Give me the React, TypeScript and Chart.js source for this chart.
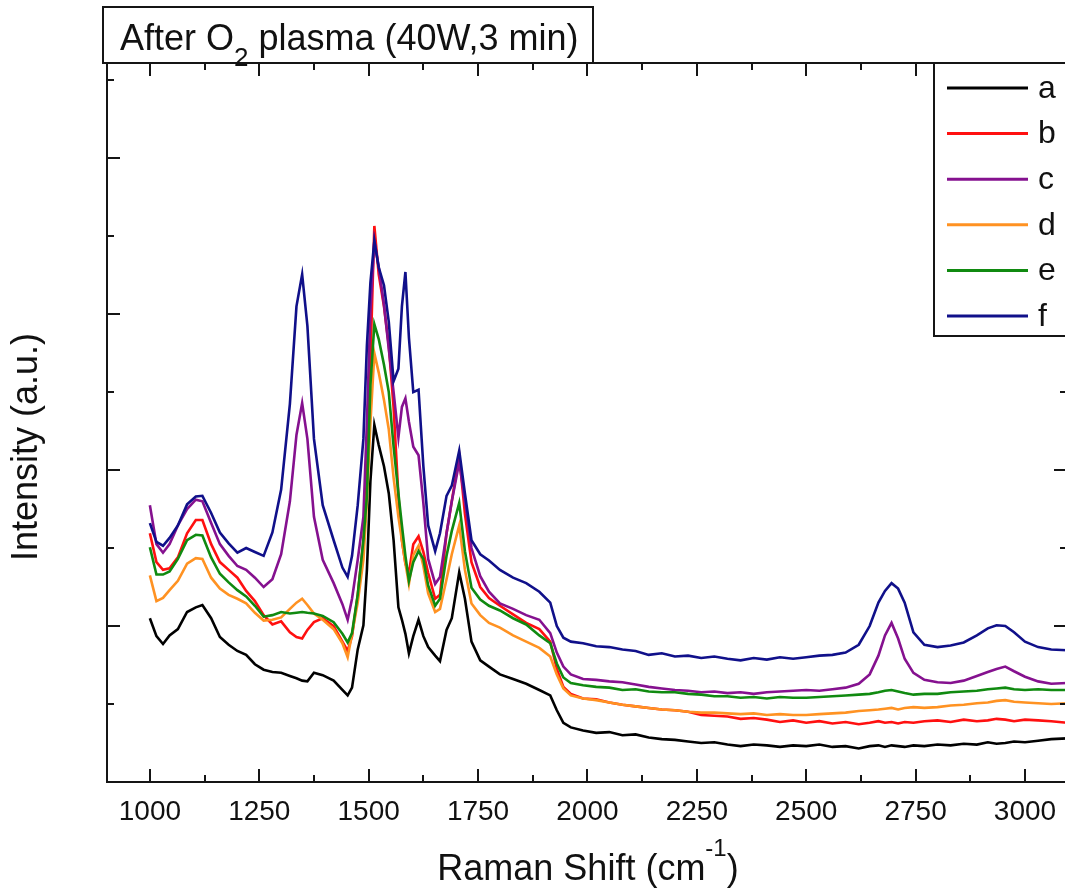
import React, { useEffect, useRef } from "react";
import { Chart, registerables } from "chart.js";

Chart.register(...registerables);

// Raman shift grid (cm^-1)
const ramanShift = [
  1000, 1015, 1030, 1045, 1064, 1085, 1105, 1120, 1140, 1160,
  1180, 1200, 1220, 1240, 1260, 1280, 1300, 1320, 1335, 1348,
  1360, 1375, 1395, 1420, 1440, 1452, 1462, 1475, 1488, 1496,
  1504, 1513, 1523, 1535, 1546, 1557, 1568, 1576, 1584, 1592,
  1602, 1614, 1625, 1636, 1652, 1663, 1678, 1690, 1707, 1720,
  1735, 1755, 1775, 1800, 1830, 1860, 1890, 1915, 1930, 1945,
  1962, 1990,
  2020, 2050, 2080, 2110, 2140, 2170, 2200, 2230, 2260, 2290,
  2320, 2350, 2380, 2410, 2440, 2470, 2500, 2530, 2560, 2590,
  2620, 2645, 2665, 2680, 2695, 2710, 2725, 2745, 2770, 2800,
  2830, 2860, 2890, 2915, 2935, 2955, 2975, 3000, 3030, 3060,
  3096,
];

const seriesA = [
  2.10, 1.87, 1.77, 1.88, 1.96, 2.18, 2.24, 2.27, 2.10, 1.86,
  1.76, 1.68, 1.63, 1.51, 1.44, 1.41, 1.40, 1.36, 1.33, 1.30,
  1.29, 1.40, 1.37, 1.30, 1.18, 1.11, 1.21, 1.70, 2.01, 2.72,
  3.86, 4.58, 4.32, 4.05, 3.70, 3.10, 2.24, 2.08, 1.90, 1.65,
  1.87, 2.08, 1.87, 1.73, 1.62, 1.55, 1.95, 2.10, 2.69, 2.35,
  1.80, 1.56, 1.48, 1.38, 1.32, 1.26, 1.18, 1.11, 0.92, 0.76,
  0.70, 0.66,
  0.63, 0.64, 0.60, 0.61, 0.57, 0.55, 0.54, 0.52, 0.50, 0.51,
  0.48, 0.46, 0.48, 0.47, 0.45, 0.47, 0.46, 0.48, 0.45, 0.46,
  0.43, 0.46, 0.47, 0.45, 0.47, 0.46, 0.45, 0.47, 0.46, 0.48,
  0.47, 0.49, 0.48, 0.51, 0.49, 0.50, 0.52, 0.51, 0.53, 0.55,
  0.56,
];

const seriesB = [
  3.19, 2.82, 2.72, 2.74, 2.88, 3.19, 3.36, 3.36, 3.05, 2.82,
  2.72, 2.62, 2.45, 2.32, 2.14, 2.02, 2.06, 1.92, 1.86, 1.84,
  1.95, 2.05, 2.10, 2.00, 1.80, 1.68, 1.87, 2.40, 3.10, 3.90,
  5.40, 7.13, 6.51, 6.10, 5.60, 4.80, 3.67, 3.10, 2.80, 2.68,
  3.05, 3.15, 2.95, 2.68, 2.35, 2.40, 3.19, 3.60, 4.19, 3.44,
  2.82, 2.50, 2.36, 2.26, 2.15, 2.04, 1.96, 1.80, 1.45, 1.22,
  1.13, 1.07,
  1.06, 1.02, 0.99, 0.97, 0.95, 0.93, 0.92, 0.90, 0.86, 0.85,
  0.84, 0.81, 0.82, 0.80, 0.77, 0.79, 0.76, 0.78, 0.75, 0.77,
  0.74, 0.76, 0.78, 0.76, 0.77, 0.75, 0.77, 0.76, 0.78, 0.79,
  0.77, 0.80, 0.78, 0.79, 0.81, 0.80, 0.78, 0.80, 0.79, 0.78,
  0.76,
];

const seriesC = [
  3.55, 3.05, 2.94, 3.05, 3.29, 3.50, 3.62, 3.60, 3.32, 3.05,
  2.90, 2.77, 2.72, 2.62, 2.50, 2.60, 2.92, 3.60, 4.45, 4.86,
  4.40, 3.40, 2.85, 2.55, 2.28, 2.08, 2.35, 2.85, 3.40, 4.62,
  6.04, 6.94, 6.60, 6.12, 5.55, 5.00, 4.42, 4.81, 4.92, 4.62,
  4.30, 4.19, 3.58, 2.86, 2.54, 2.63, 3.19, 3.60, 4.10, 3.60,
  3.00, 2.64, 2.44, 2.29, 2.22, 2.14, 2.08, 1.91, 1.66, 1.48,
  1.38, 1.32,
  1.31, 1.29, 1.28, 1.25, 1.22, 1.20, 1.18, 1.17, 1.15, 1.16,
  1.14, 1.15, 1.13, 1.15, 1.16, 1.17, 1.18, 1.17, 1.19, 1.21,
  1.26, 1.38, 1.62, 1.88, 2.04, 1.84, 1.58, 1.40, 1.31, 1.28,
  1.27, 1.30, 1.36, 1.41, 1.45, 1.48, 1.42, 1.35, 1.29, 1.26,
  1.27,
];

const seriesD = [
  2.65, 2.32, 2.36, 2.46, 2.58, 2.80, 2.87, 2.86, 2.62, 2.48,
  2.40, 2.35, 2.29, 2.17, 2.07, 2.08, 2.11, 2.22, 2.30, 2.35,
  2.27, 2.16, 2.08, 1.96, 1.78, 1.60, 1.90, 2.30, 2.85, 3.60,
  4.60, 5.50, 5.25, 4.90, 4.52, 3.90, 3.40, 3.10, 2.80, 2.54,
  2.91, 3.03, 2.77, 2.42, 2.18, 2.22, 2.60, 2.92, 3.29, 2.72,
  2.29, 2.14, 2.04, 1.98, 1.88, 1.80, 1.72, 1.61, 1.38, 1.20,
  1.11, 1.07,
  1.05, 1.02, 0.99, 0.97, 0.95, 0.93, 0.92, 0.90, 0.89, 0.89,
  0.88, 0.87, 0.88, 0.86, 0.87, 0.86, 0.86, 0.87, 0.88, 0.89,
  0.91, 0.92, 0.93, 0.94, 0.95, 0.93, 0.95, 0.96, 0.95, 0.96,
  0.98, 0.99, 1.01, 1.02, 1.04, 1.05, 1.03, 1.02, 1.01, 1.00,
  1.01,
];

const seriesE = [
  3.01, 2.66, 2.66, 2.70, 2.86, 3.10, 3.17, 3.16, 2.88, 2.67,
  2.56, 2.46, 2.38, 2.26, 2.12, 2.14, 2.18, 2.16, 2.17, 2.18,
  2.17, 2.16, 2.13, 2.05, 1.90, 1.79, 1.91, 2.40, 3.10, 3.67,
  5.09, 5.87, 5.68, 5.35, 5.00, 4.30, 3.70, 3.29, 2.90, 2.58,
  2.82, 2.96, 2.86, 2.52, 2.26, 2.35, 2.90, 3.22, 3.58, 2.96,
  2.49, 2.34, 2.26, 2.20, 2.10, 2.02, 1.88, 1.78, 1.52, 1.34,
  1.27, 1.24,
  1.22, 1.21, 1.18, 1.19, 1.16, 1.15, 1.15, 1.13, 1.12, 1.10,
  1.10, 1.08, 1.09, 1.07, 1.09, 1.08, 1.08, 1.09, 1.10, 1.11,
  1.12, 1.13, 1.15, 1.17, 1.18, 1.16, 1.14, 1.12, 1.13, 1.13,
  1.15, 1.16, 1.17, 1.19, 1.20, 1.21, 1.19, 1.18, 1.19, 1.18,
  1.18,
];

const seriesF = [
  3.32, 3.08, 3.03, 3.13, 3.29, 3.56, 3.66, 3.67, 3.45, 3.20,
  3.06, 2.94, 3.00, 2.95, 2.90, 3.20, 3.75, 4.85, 6.10, 6.51,
  5.85, 4.40, 3.55, 3.10, 2.75, 2.63, 2.90, 3.55, 4.40, 5.60,
  6.40, 6.94, 6.60, 6.37, 5.90, 5.14, 5.30, 6.10, 6.54, 5.70,
  5.00, 5.03, 4.05, 3.29, 2.96, 3.19, 3.67, 3.80, 4.25, 3.70,
  3.10, 2.92, 2.84, 2.72, 2.62, 2.55, 2.44, 2.30, 2.00, 1.85,
  1.80, 1.78,
  1.74, 1.73, 1.70, 1.68, 1.63, 1.65, 1.61, 1.62, 1.59, 1.61,
  1.58, 1.56, 1.59, 1.57, 1.60, 1.58, 1.60, 1.62, 1.63, 1.66,
  1.76, 2.00, 2.30, 2.45, 2.55, 2.48, 2.30, 1.92, 1.76, 1.73,
  1.75, 1.79, 1.88, 1.97, 2.01, 2.00, 1.92, 1.80, 1.73, 1.70,
  1.69,
];

const seriesLabels = ["a", "b", "c", "d", "e", "f"];
const seriesColors = ["#000000", "#ff1010", "#85118f", "#ff9222", "#108a10", "#10108a"];
const seriesValues = [seriesA, seriesB, seriesC, seriesD, seriesE, seriesF];

const xMajorTicks = [1000, 1250, 1500, 1750, 2000, 2250, 2500, 2750, 3000];
const xMinorTicks = [1125, 1375, 1625, 1875, 2125, 2375, 2625, 2875];
const yMajorTicks = [0, 2, 4, 6, 8];
const yMinorTicks = [1, 3, 5, 7, 9];

const FONT = "'Liberation Sans', Arial, Helvetica, sans-serif";

const decorPlugin = {
  id: "decor",
  afterDraw(chart: any) {
    const ctx: CanvasRenderingContext2D = chart.ctx;
    const { left, right, top, bottom } = chart.chartArea;
    const xs = chart.scales.x;
    const ys = chart.scales.y;
    ctx.save();
    ctx.strokeStyle = "#151515";
    ctx.lineWidth = 2;
    ctx.lineCap = "butt";
    ctx.strokeRect(left, top, right - left, bottom - top);
    const seg = (x1: number, y1: number, x2: number, y2: number) => {
      ctx.beginPath();
      ctx.moveTo(x1, y1);
      ctx.lineTo(x2, y2);
      ctx.stroke();
    };
    xMajorTicks.forEach((v) => {
      const x = Math.round(xs.getPixelForValue(v));
      seg(x, bottom, x, bottom - 13);
      seg(x, top, x, top + 13);
    });
    xMinorTicks.forEach((v) => {
      const x = Math.round(xs.getPixelForValue(v));
      seg(x, bottom, x, bottom - 7);
      seg(x, top, x, top + 7);
    });
    yMajorTicks.forEach((v) => {
      const y = Math.round(ys.getPixelForValue(v));
      seg(left, y, left + 13, y);
      seg(right, y, right - 13, y);
    });
    yMinorTicks.forEach((v) => {
      const y = Math.round(ys.getPixelForValue(v));
      seg(left, y, left + 7, y);
      seg(right, y, right - 7, y);
    });

    // Title box
    ctx.fillStyle = "#ffffff";
    ctx.fillRect(103, 7, 490, 56);
    ctx.strokeRect(103, 7, 490, 56);
    ctx.fillStyle = "#111111";
    ctx.textAlign = "left";
    ctx.textBaseline = "alphabetic";
    ctx.font = `36px ${FONT}`;
    let tx = 120;
    ctx.fillText("After O", tx, 50);
    tx += ctx.measureText("After O").width;
    ctx.font = `26px ${FONT}`;
    ctx.fillText("2", tx, 66);
    tx += ctx.measureText("2").width;
    ctx.font = `36px ${FONT}`;
    ctx.fillText(" plasma (40W,3 min)", tx, 50);

    // Legend box
    ctx.fillStyle = "#ffffff";
    ctx.fillRect(934, 63, 160, 273);
    ctx.strokeRect(934, 63, 160, 273);
    ctx.font = `32px ${FONT}`;
    ctx.textBaseline = "middle";
    chart.data.datasets.forEach((ds: any, i: number) => {
      const y = 88 + i * 45.6;
      ctx.strokeStyle = ds.borderColor;
      ctx.lineWidth = 3;
      seg(947, y, 1028, y);
      ctx.fillStyle = "#111111";
      ctx.fillText(ds.label, 1038, y + 1);
    });

    // X axis title
    ctx.fillStyle = "#111111";
    ctx.textBaseline = "alphabetic";
    const p1 = "Raman Shift (cm";
    const p2 = "-1";
    const p3 = ")";
    ctx.font = `36px ${FONT}`;
    const w1 = ctx.measureText(p1).width;
    const w3 = ctx.measureText(p3).width;
    ctx.font = `24px ${FONT}`;
    const w2 = ctx.measureText(p2).width;
    let sx = 588 - (w1 + w2 + w3) / 2;
    ctx.font = `36px ${FONT}`;
    ctx.fillText(p1, sx, 880);
    sx += w1;
    ctx.font = `24px ${FONT}`;
    ctx.fillText(p2, sx, 856);
    sx += w2;
    ctx.font = `36px ${FONT}`;
    ctx.fillText(p3, sx, 880);

    // Y axis title
    ctx.save();
    ctx.translate(27, 447);
    ctx.rotate(-Math.PI / 2);
    ctx.textAlign = "center";
    ctx.textBaseline = "middle";
    ctx.font = `36px ${FONT}`;
    ctx.fillText("Intensity (a.u.)", 0, 0);
    ctx.restore();

    ctx.restore();
  },
};

export default function App() {
  const canvasRef = useRef<HTMLCanvasElement | null>(null);

  useEffect(() => {
    if (!canvasRef.current) return;
    const datasets = seriesValues.map((vals, i) => ({
      label: seriesLabels[i],
      data: ramanShift.map((x, j) => ({ x, y: vals[j] })),
      borderColor: seriesColors[i],
      backgroundColor: seriesColors[i],
      borderWidth: 2.6,
      pointRadius: 0,
      tension: 0,
      fill: false,
      order: seriesLabels.length - i,
    }));
    const chart = new Chart(canvasRef.current, {
      type: "line",
      data: { datasets },
      options: {
        animation: false,
        responsive: false,
        devicePixelRatio: 1,
        layout: { padding: { top: 63, right: 10, left: 0, bottom: 0 } },
        plugins: {
          legend: { display: false },
          tooltip: { enabled: false },
          title: { display: false },
        },
        scales: {
          x: {
            type: "linear",
            min: 902,
            max: 3096,
            grid: { display: false, drawTicks: false },
            border: { display: false },
            afterBuildTicks: (s: any) => {
              s.ticks = xMajorTicks.map((v) => ({ value: v }));
            },
            afterFit: (s: any) => {
              s.height = 110;
            },
            ticks: {
              color: "#111111",
              font: { family: FONT, size: 28 },
              padding: 13,
              maxRotation: 0,
              autoSkip: false,
              callback: (v: any) => String(v),
            },
          },
          y: {
            type: "linear",
            min: 0,
            max: 9.22,
            grid: { display: false, drawTicks: false },
            border: { display: false },
            ticks: { display: false },
            afterFit: (s: any) => {
              s.width = 107;
            },
          },
        },
      } as any,
      plugins: [decorPlugin],
    });
    return () => chart.destroy();
  }, []);

  return (
    <div
      style={{
        position: "absolute",
        left: 0,
        top: 0,
        width: 1065,
        height: 892,
        overflow: "hidden",
        background: "#ffffff",
      }}
    >
      <canvas ref={canvasRef} width={1077} height={892} style={{ display: "block", width: 1077, height: 892 }} />
    </div>
  );
}
